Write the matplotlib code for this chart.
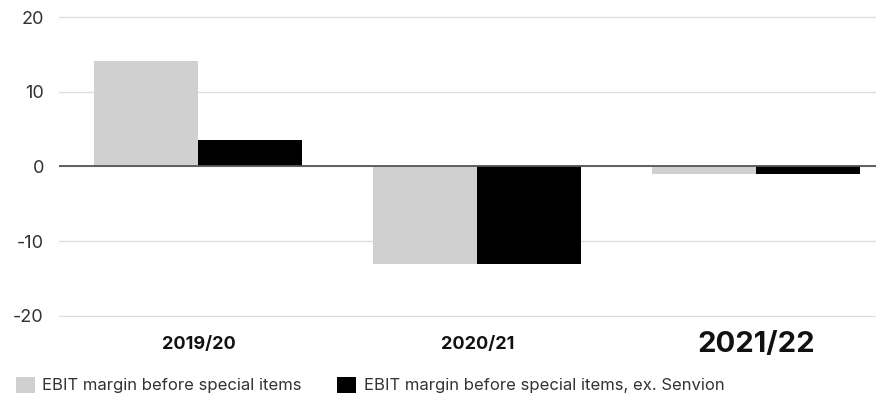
import numpy as np
import matplotlib.pyplot as plt

plt.rcParams['font.family'] = ['Inter', 'DejaVu Sans']

years = ['2019/20', '2020/21', '2021/22']
ebit_margin = [14.1, -13.1, -1.0]
ebit_margin_ex_senvion = [3.6, -13.1, -1.0]
series_labels = ['EBIT margin before special items',
                 'EBIT margin before special items, ex. Senvion']

fig = plt.figure(figsize=(8.76, 3.95), dpi=100)
ax = fig.add_axes([0.0674, 0.1975, 0.9326, 0.762])

x = np.arange(len(years))
w = 0.373
b1 = ax.bar(x - w / 2, ebit_margin, w, color='#d0d0d0', label=series_labels[0], zorder=2)
b2 = ax.bar(x + w / 2, ebit_margin_ex_senvion, w, color='#000000', label=series_labels[1], zorder=2)

ax.set_xlim(-0.5, 2.43)
ax.set_ylim(-20.15, 20.15)
ax.set_yticks([-20, -10, 0, 10, 20])
ax.set_yticklabels(['-20', '-10', '0', '10', '20'])
ax.grid(axis='y', color='#dedede', linewidth=1, zorder=0)
ax.axhline(0, color='#555555', linewidth=1.3, zorder=3)
for s in ax.spines.values():
    s.set_visible(False)
ax.tick_params(axis='y', length=0, pad=11, labelsize=13, labelcolor='#333333')
ax.tick_params(axis='x', length=0)
ax.set_xticks([])

for i, yr in enumerate(years):
    size = 21 if i == len(years) - 1 else 13
    ax.text(x[i], -0.0914, yr, transform=ax.get_xaxis_transform(), ha='center', va='center',
            fontsize=size, fontweight='bold', color='#111111')

fig.legend(handles=[b1, b2], loc='lower left', bbox_to_anchor=(16 / 876, 0.004), ncol=2, frameon=False,
           borderpad=0, borderaxespad=0,
           handlelength=1.14, handleheight=1.14, handletextpad=0.45, columnspacing=2.1,
           fontsize=12, labelcolor='#333333')

fig.savefig('out.png', dpi=100)
